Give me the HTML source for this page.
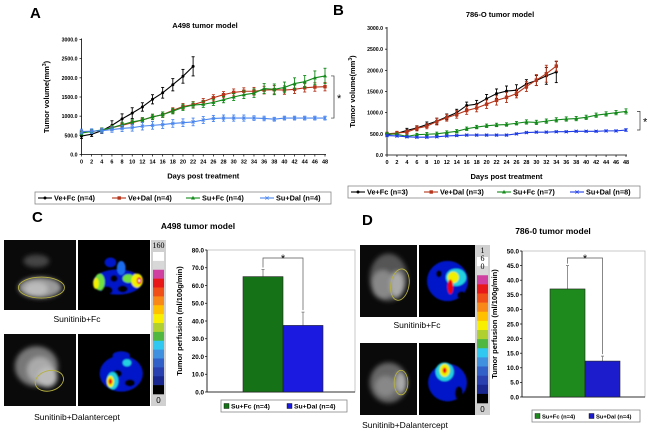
<!DOCTYPE html>
<html><head><meta charset="utf-8">
<style>
html,body{margin:0;padding:0;background:#fff;}
svg{display:block;font-family:"Liberation Sans",Arial,sans-serif;}
</style></head>
<body>
<svg id="fig" width="650" height="433" viewBox="0 0 650 433" xmlns="http://www.w3.org/2000/svg">
<defs>
  <filter id="blur2" x="-20%" y="-20%" width="140%" height="140%"><feGaussianBlur stdDeviation="2.5"/></filter>
  <filter id="blur1" x="-20%" y="-20%" width="140%" height="140%"><feGaussianBlur stdDeviation="0.8"/></filter>
</defs>
<g id="root"></g>
</svg>
<script>
// ---------- Panel A data ----------
const daysA = [0,2,4,6,8,10,12,14,16,18,20,22,24,26,28,30,32,34,36,38,40,42,44,46,48];
const aVeFc  = [480,530,620,760,930,1080,1240,1440,1610,1820,2040,2300];
const aVeFcE = [60,60,70,120,130,140,110,120,140,160,180,250];
const aVeDal = [580,600,630,700,760,830,900,980,1040,1150,1250,1300,1380,1480,1560,1620,1650,1650,1680,1690,1680,1700,1740,1760,1770];
const aVeDalE= [50,50,50,60,60,60,60,70,70,70,80,80,80,80,80,90,90,100,100,110,110,110,110,110,110];
const aSuFc  = [560,600,640,700,780,850,900,980,1040,1130,1230,1290,1310,1360,1430,1500,1560,1600,1720,1700,1750,1850,1900,2000,2050];
const aSuFcE = [50,50,50,60,60,60,60,70,70,70,80,80,80,80,80,90,100,110,130,140,140,150,160,180,200];
const aSuDal = [600,610,620,650,680,700,740,760,780,810,830,850,900,940,950,950,950,950,940,920,950,950,950,950,950];
const aSuDalE= [60,60,60,70,80,90,100,100,100,100,100,100,90,80,80,80,80,60,60,50,50,50,50,50,50];
// ---------- Panel B data ----------
const daysB = daysA;
const bVeFc  = [480,510,580,640,720,800,900,1000,1170,1200,1330,1450,1510,1530,1680,1760,1870,1960];
const bVeFcE = [40,40,50,50,60,70,70,80,80,90,100,110,120,130,100,120,200,250];
const bVeDal = [500,520,540,630,680,790,880,960,1050,1110,1200,1290,1360,1450,1620,1770,1920,2100];
const bVeDalE= [40,40,50,60,60,80,80,90,90,90,100,110,120,100,120,130,200,120];
const bSuFc  = [500,490,440,480,490,500,530,560,620,660,690,710,720,750,780,770,800,830,850,860,890,940,970,1000,1030];
const bSuFcE = [30,30,30,30,40,40,40,40,40,40,40,40,40,40,50,50,50,50,50,50,50,50,50,50,60];
const bSuDal = [460,450,430,420,420,430,450,460,470,470,470,470,470,500,530,540,540,550,550,560,560,560,570,570,590];
const bSuDalE= [20,20,20,20,20,20,20,20,20,20,20,20,20,20,20,20,20,20,20,20,20,20,20,20,30];
const volTicks = [0,500,1000,1500,2000,2500,3000];
const volTickLabels = ["0.0","500.0","1000.0","1500.0","2000.0","2500.0","3000.0"];
// ---------- Panel C / D bar data ----------
const barCats = ["Su+Fc (n=4)","Su+Dal (n=4)"];
const cVals = [65,37.5];
const cErr  = [4,7.5];
const cTicks = [0,10,20,30,40,50,60,70,80];
const dVals = [37,12.3];
const dErr  = [8,1.7];
const dTicks = [0,5,10,15,20,25,30,35,40,45,50];

const NS="http://www.w3.org/2000/svg";
const root=document.getElementById('root');
function mk(tag,attrs,parent,txt){const e=document.createElementNS(NS,tag);for(const k in attrs)e.setAttribute(k,attrs[k]);if(txt!==undefined)e.textContent=txt;(parent||root).appendChild(e);return e;}

function lineChart(cfg){
  const g=mk('g',{});
  
  
  const sx=d=>cfg.x0+(d-0)/48*(cfg.x1-cfg.x0);
  const sy=v=>cfg.y0-(v/3000)*(cfg.y0-cfg.y1);
  const ax=mk('line',{x1:cfg.x0,y1:cfg.y1-1,x2:cfg.x0,y2:cfg.y0,stroke:'#000','stroke-width':0.8},g);
  
  const bx=mk('line',{x1:cfg.x0,y1:cfg.y0,x2:cfg.x1+1,y2:cfg.y0,stroke:'#000','stroke-width':0.8},g);
  
  volTicks.forEach((t,i)=>{
    const y=sy(t);
    mk('line',{x1:cfg.x0-2,y1:y,x2:cfg.x0,y2:y,stroke:'#000','stroke-width':0.7},g);
    const tl=mk('text',{x:cfg.x0-4,y:y+2,'font-size':5.2,'font-weight':'bold','text-anchor':'end'},g,volTickLabels[i]);
    
  });
  daysA.forEach(d=>{
    const x=sx(d);
    mk('line',{x1:x,y1:cfg.y0,x2:x,y2:cfg.y0+2,stroke:'#000','stroke-width':0.7},g);
    const tl=mk('text',{x:x,y:cfg.y0+9,'font-size':5.5,'font-weight':'bold','text-anchor':'middle'},g,String(d));
    
  });
  const t=mk('text',{x:cfg.tx,y:cfg.ty,'font-size':7.5,'font-weight':'bold','text-anchor':'middle'},g,cfg.title);
  
  const xt=mk('text',{x:(cfg.x0+cfg.x1)/2,y:cfg.y0+24,'font-size':7.5,'font-weight':'bold','text-anchor':'middle'},g,'Days post treatment');
  
  const yt=mk('text',{x:0,y:0,'font-size':7.5,'font-weight':'bold','text-anchor':'middle',transform:`translate(${cfg.ytx},${(cfg.y0+cfg.y1)/2}) rotate(-90)`},g);
  
  yt.textContent='Tumor volume(mm';
  mk('tspan',{dy:-3,'font-size':5},yt,'3');
  mk('tspan',{dy:3},yt,')');
  cfg.series.forEach(s=>{
    const sg=mk('g',{},g);
    
    
    const pts=s.vals.map((v,i)=>sx(daysA[i])+','+sy(v)).join(' ');
    s.vals.forEach((v,i)=>{
      const x=sx(daysA[i]);const e=s.err[i];
      mk('line',{x1:x,y1:sy(v+e),x2:x,y2:sy(v-e),stroke:s.color,'stroke-width':0.9},sg);
      mk('line',{x1:x-1.5,y1:sy(v+e),x2:x+1.5,y2:sy(v+e),stroke:s.color,'stroke-width':0.9},sg);
      mk('line',{x1:x-1.5,y1:sy(v-e),x2:x+1.5,y2:sy(v-e),stroke:s.color,'stroke-width':0.9},sg);
    });
    const pl=mk('polyline',{points:pts,fill:'none',stroke:s.color,'stroke-width':1.1},sg);
    
    s.vals.forEach((v,i)=>{
      const x=sx(daysA[i]),y=sy(v);
      let m;
      if(s.marker==='sq') m=mk('rect',{x:x-1.7,y:y-1.7,width:3.4,height:3.4,fill:s.color},sg);
      else if(s.marker==='tri') m=mk('polygon',{points:`${x},${y-2.2} ${x-2},${y+1.5} ${x+2},${y+1.5}`,fill:s.color},sg);
      else if(s.marker==='x') {m=mk('path',{d:`M${x-1.6},${y-1.6}L${x+1.6},${y+1.6}M${x-1.6},${y+1.6}L${x+1.6},${y-1.6}`,stroke:s.color,'stroke-width':0.8},sg);}
      else m=mk('circle',{cx:x,cy:y,r:1.5,fill:s.color},sg);
      
    });
  });
  const lg=mk('g',{},g);
  
  mk('rect',{x:cfg.lx,y:cfg.ly,width:cfg.lw,height:12,fill:'#fff',stroke:'#888','stroke-width':0.8},lg);
  let x=cfg.lx+3;
  cfg.series.forEach((s,i)=>{
    const le=mk('g',{},lg);
    
    const cy=cfg.ly+6;
    mk('line',{x1:x,y1:cy,x2:x+14,y2:cy,stroke:s.color,'stroke-width':1.1},le);
    if(s.marker==='sq') mk('rect',{x:x+5.5,y:cy-1.7,width:3.4,height:3.4,fill:s.color},le);
    else if(s.marker==='tri') mk('polygon',{points:`${x+7},${cy-2.2} ${x+5},${cy+1.5} ${x+9},${cy+1.5}`,fill:s.color},le);
    else if(s.marker==='x') mk('path',{d:`M${x+5.4},${cy-1.6}L${x+8.6},${cy+1.6}M${x+5.4},${cy+1.6}L${x+8.6},${cy-1.6}`,stroke:s.color,'stroke-width':0.8},le);
    else mk('circle',{cx:x+7,cy:cy,r:1.5,fill:s.color},le);
    mk('text',{x:x+16,y:cy+2.6,'font-size':7.3,'font-weight':'bold'},le,s.label);
    x+=cfg.lstep;
  });
  const b=cfg.brk;
  const br=mk('path',{d:`M${b.x-3},${sy(b.v1)}H${b.x}V${sy(b.v2)}H${b.x-3}`,fill:'none',stroke:'#333','stroke-width':0.7},g);
  
  const st=mk('text',{x:b.x+3,y:(sy(b.v1)+sy(b.v2))/2+5,'font-size':11},g,'*');
  
}

lineChart({name:'chart-a498-growth',x0:81.5,x1:325,y0:154.5,y1:39.5,title:'A498 tumor model',tx:205,ty:28,ytx:49,
  lx:35,ly:192,lw:296,lstep:74,brk:{x:334,v1:2050,v2:950},
  series:[
   {key:'ve-fc',label:'Ve+Fc (n=4)',color:'#000',marker:'dot',vals:aVeFc,err:aVeFcE},
   {key:'ve-dal',label:'Ve+Dal (n=4)',color:'#b5341a',marker:'sq',vals:aVeDal,err:aVeDalE},
   {key:'su-fc',label:'Su+Fc (n=4)',color:'#13891a',marker:'tri',vals:aSuFc,err:aSuFcE},
   {key:'su-dal',label:'Su+Dal (n=4)',color:'#4a86ef',marker:'x',vals:aSuDal,err:aSuDalE}]});
lineChart({name:'chart-786o-growth',x0:387,x1:626,y0:155,y1:28,title:'786-O tumor model',tx:500,ty:17,ytx:355,
  lx:348,ly:186,lw:292,lstep:73,brk:{x:640,v1:1030,v2:590},
  series:[
   {key:'ve-fc',label:'Ve+Fc (n=3)',color:'#000',marker:'dot',vals:bVeFc,err:bVeFcE},
   {key:'ve-dal',label:'Ve+Dal (n=3)',color:'#b5341a',marker:'sq',vals:bVeDal,err:bVeDalE},
   {key:'su-fc',label:'Su+Fc (n=7)',color:'#13891a',marker:'tri',vals:bSuFc,err:bSuFcE},
   {key:'su-dal',label:'Su+Dal (n=8)',color:'#1f3de8',marker:'x',vals:bSuDal,err:bSuDalE}]});

[['A',30,18],['B',333,15],['C',32,222],['D',362,225]].forEach(p=>{
  const t=mk('text',{x:p[1],y:p[2],'font-size':15,'font-weight':'bold'},root,p[0]);
  
});

// ---------- images ----------
function grayImg(x,y,w,h,blobs,roi,name){
  const g=mk('g',{});
  mk('rect',{x:x,y:y,width:w,height:h,fill:'#0a0a0a'},g);
  const bg=mk('g',{filter:'url(#blur2)'},g);
  blobs.forEach(b=>mk('ellipse',{cx:x+b[0]*w,cy:y+b[1]*h,rx:b[2]*w,ry:b[3]*h,fill:b[4]},bg));
  mk('ellipse',{cx:x+roi[0]*w,cy:y+roi[1]*h,rx:roi[2]*w,ry:roi[3]*h,fill:'none',stroke:'#b5b040','stroke-width':0.9,transform:`rotate(${roi[4]||0} ${x+roi[0]*w} ${y+roi[1]*h})`},g);
}
function heatImg(x,y,w,h,blobs,name){
  const g=mk('g',{});
  mk('rect',{x:x,y:y,width:w,height:h,fill:'#000'},g);
  const bg=mk('g',{filter:'url(#blur1)'},g);
  blobs.forEach(b=>mk('ellipse',{cx:x+b[0]*w,cy:y+b[1]*h,rx:b[2]*w,ry:b[3]*h,fill:b[4]},bg));
}
function colorbar(x,y,w,h,top,name){
  const g=mk('g',{});
  const cols=['#ffffff','#d8d8d8','#d040a0','#e81818','#f05018','#f88818','#ffc000','#f8f000','#b0d030','#50b840','#30c8f0','#4090e0','#3060c8','#2840b0','#182890','#000000'];
  mk('rect',{x:x-2,y:y,width:w+4,height:h,fill:'#d0d0d0'},g);
  const sh=(h-24)/cols.length;
  cols.forEach((c,i)=>mk('rect',{x:x,y:y+12+i*sh,width:w,height:sh+0.3,fill:c},g));
  top.forEach((t,i)=>mk('text',{x:x+w/2,y:y+8+i*(top.length>1?8:0),'font-size':8,'font-family':'Liberation Serif, serif','text-anchor':'middle'},g,t));
  mk('text',{x:x+w/2,y:y+h-3,'font-size':8,'text-anchor':'middle'},g,'0');
}
const hot=['#0018c8','#1f6cf0','#20d0e0','#70e040','#f0f000','#f08000','#e00000'];
const K='#000';
grayImg(4,240,72,70,[[0.45,0.3,0.18,0.09,'#444'],[0.5,0.68,0.3,0.15,'#999'],[0.45,0.7,0.16,0.1,'#bbb']],[0.52,0.68,0.32,0.15],'mri-a498-sufc-gray');
heatImg(78,240,72,70,[[0.55,0.6,0.34,0.18,hot[0]],[0.45,0.32,0.08,0.07,hot[0]],[0.6,0.4,0.06,0.1,hot[1]],
  [0.4,0.72,0.08,0.06,K],[0.62,0.7,0.07,0.05,K],[0.5,0.55,0.05,0.05,K],
  [0.3,0.6,0.07,0.12,hot[3]],[0.25,0.62,0.04,0.08,hot[4]],[0.7,0.55,0.08,0.06,hot[3]],[0.82,0.58,0.08,0.1,hot[4]],[0.85,0.58,0.035,0.05,'#e00'],[0.85,0.58,0.015,0.02,'#fff']],'perfusion-a498-sufc');
grayImg(4,334,72,72,[[0.45,0.45,0.3,0.28,'#777'],[0.5,0.5,0.18,0.18,'#aaa'],[0.6,0.6,0.14,0.14,'#bbb']],[0.63,0.65,0.2,0.14,-15],'mri-a498-sudal-gray');
heatImg(78,334,72,72,[[0.6,0.55,0.3,0.25,hot[0]],[0.6,0.3,0.12,0.06,hot[0]],[0.55,0.55,0.06,0.05,K],[0.72,0.68,0.07,0.05,K],
  [0.48,0.65,0.08,0.12,hot[2]],[0.45,0.66,0.05,0.08,hot[4]],[0.45,0.66,0.025,0.04,'#e00'],[0.68,0.4,0.06,0.05,hot[2]]],'perfusion-a498-sudal');
colorbar(153,240,11,166,['160'],'colorbar-c');
grayImg(360,245,57,72,[[0.5,0.45,0.33,0.33,'#555'],[0.4,0.55,0.2,0.2,'#888'],[0.65,0.55,0.12,0.18,'#aaa']],[0.7,0.55,0.16,0.22,10],'mri-786o-sufc-gray');
heatImg(419,245,57,72,[[0.5,0.5,0.36,0.28,hot[0]],[0.35,0.4,0.05,0.05,K],[0.75,0.7,0.08,0.06,K],[0.65,0.45,0.18,0.12,hot[2]],[0.6,0.45,0.1,0.08,hot[4]],[0.55,0.58,0.05,0.1,'#e00']],'perfusion-786o-sufc');
grayImg(360,343,57,72,[[0.5,0.55,0.33,0.28,'#666'],[0.45,0.6,0.18,0.14,'#888'],[0.72,0.55,0.09,0.14,'#aaa']],[0.72,0.55,0.12,0.17],'mri-786o-sudal-gray');
heatImg(419,343,57,72,[[0.5,0.55,0.34,0.26,hot[0]],[0.7,0.7,0.07,0.1,K],[0.45,0.4,0.16,0.13,hot[2]],[0.45,0.38,0.09,0.09,hot[4]],[0.45,0.38,0.035,0.04,'#e00']],'perfusion-786o-sudal');
colorbar(477,245,11,170,['1','6','0'],'colorbar-d');
[['Sunitinib+Fc',77,322,'caption-c-sufc'],['Sunitinib+Dalantercept',77,420,'caption-c-sudal'],['Sunitinib+Fc',417,328,'caption-d-sufc'],['Sunitinib+Dalantercept',405,428,'caption-d-sudal']].forEach(c=>{
  const t=mk('text',{x:c[1],y:c[2],'font-size':8.5,'text-anchor':'middle'},root,c[0]);
  
});

// ---------- bar charts ----------
function barChart(cfg){
  const g=mk('g',{});
  const sy=v=>cfg.y0-v/cfg.max*(cfg.y0-cfg.y1);
  mk('rect',{x:cfg.x0,y:cfg.y1,width:cfg.x1-cfg.x0,height:cfg.y0-cfg.y1,fill:'none',stroke:'#bbb','stroke-width':0.8},g);
  mk('line',{x1:cfg.x0,y1:cfg.y1,x2:cfg.x0,y2:cfg.y0,stroke:'#000','stroke-width':0.8},g);
  mk('line',{x1:cfg.x0,y1:cfg.y0,x2:cfg.x1,y2:cfg.y0,stroke:'#000','stroke-width':0.8},g);
  cfg.ticks.forEach(t=>{
    mk('line',{x1:cfg.x0-2,y1:sy(t),x2:cfg.x0,y2:sy(t),stroke:'#000','stroke-width':0.7},g);
    const tl=mk('text',{x:cfg.x0-3,y:sy(t)+2.3,'font-size':6.3,'font-weight':'bold','text-anchor':'end'},g,t.toFixed(1));
    
  });
  const yt=mk('text',{x:0,y:0,'font-size':7.5,'font-weight':'bold','text-anchor':'middle',transform:`translate(${cfg.ytx},${(cfg.y0+cfg.y1)/2}) rotate(-90)`},g,'Tumor perfusion (ml/100g/min)');
  
  const cols=cfg.colors;
  cfg.vals.forEach((v,i)=>{
    const x=cfg.bx+i*cfg.bw;
    mk('line',{x1:x+cfg.bw/2,y1:sy(v),x2:x+cfg.bw/2,y2:sy(v+cfg.err[i]),stroke:'#777','stroke-width':0.8},g);
    mk('line',{x1:x+cfg.bw/2-1.5,y1:sy(v+cfg.err[i]),x2:x+cfg.bw/2+1.5,y2:sy(v+cfg.err[i]),stroke:'#777','stroke-width':0.8},g);
    const r=mk('rect',{x:x,y:sy(v),width:cfg.bw,height:sy(0)-sy(v),fill:cols[i],stroke:'#222','stroke-width':0.6},g);
    
  });
  const ax=cfg.bx+cfg.bw/2, bxx=cfg.bx+cfg.bw*1.5;
  const by=cfg.brY;
  const br=mk('path',{d:`M${ax},${sy(cfg.vals[0]+cfg.err[0])-2}V${by}H${bxx}V${sy(cfg.vals[1]+cfg.err[1])-2}`,fill:'none',stroke:'#555','stroke-width':0.7},g);
  
  const st=mk('text',{x:(ax+bxx)/2,y:by+4,'font-size':11,'text-anchor':'middle'},g,'*');
  
  const t=mk('text',{x:cfg.tx,y:cfg.ty,'font-size':8.5,'font-weight':'bold','text-anchor':'middle'},g,cfg.title);
  
  const lg=mk('g',{},g);
  mk('rect',{x:cfg.lx,y:cfg.ly,width:cfg.lw,height:12,fill:'#fff',stroke:'#888','stroke-width':0.8},lg);
  barCats.forEach((c,i)=>{
    const x=cfg.lx+3+i*cfg.lw/2;
    const le=mk('g',{},lg);
    mk('rect',{x:x,y:cfg.ly+3.5,width:5,height:5,fill:cols[i],stroke:'#000','stroke-width':0.4},le);
    mk('text',{x:x+7,y:cfg.ly+8.6,'font-size':cfg.lfs,'font-weight':'bold'},le,c);
  });
}
barChart({name:'chart-a498-perfusion',x0:207,x1:355,y0:392,y1:250,max:80,ticks:cTicks,vals:cVals,err:cErr,bx:243,bw:40,
  colors:['#167216','#1a1ae0'],ytx:182,brY:258,title:'A498 tumor model',tx:198,ty:229,lx:221,ly:400,lw:126,lfs:6.8});
barChart({name:'chart-786o-perfusion',x0:522,x1:645,y0:397,y1:251,max:50,ticks:dTicks,vals:dVals,err:dErr,bx:550,bw:35,
  colors:['#1e8a1e','#1c1ccc'],ytx:497,brY:258,title:'786-0 tumor model',tx:553,ty:234,lx:532,ly:410,lw:108,lfs:5.8});
</script>
</body></html>
